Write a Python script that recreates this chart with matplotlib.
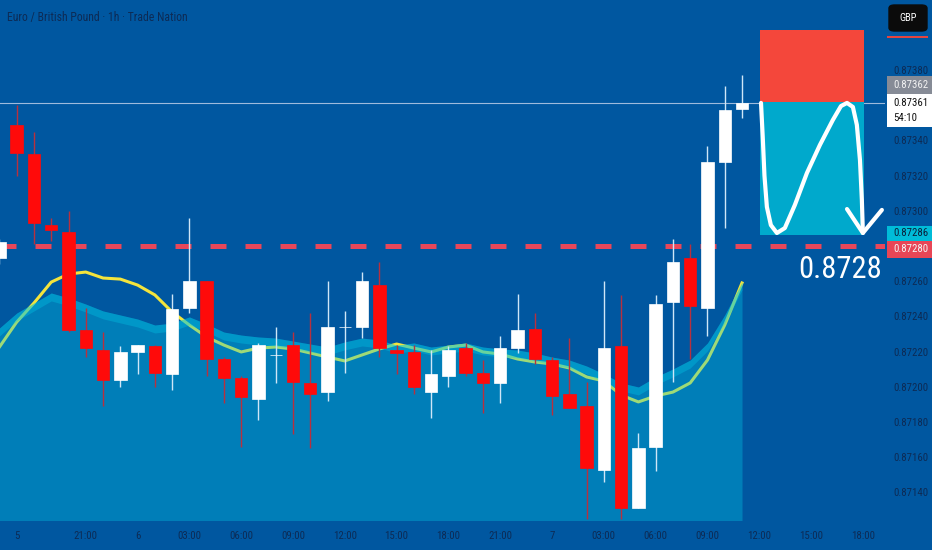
import numpy as np
import matplotlib.pyplot as plt
from matplotlib import font_manager
from matplotlib.patches import Rectangle, FancyBboxPatch

# hourly EURGBP candles, index 0 = 16:00 on the 5th
opens = [0.87273, 0.87349, 0.87332, 0.87292, 0.87288, 0.87232, 0.87221, 0.87204, 0.87220, 0.87223,
         0.87207, 0.87245, 0.87260, 0.87216, 0.87205, 0.87193, 0.87218, 0.87224, 0.87202, 0.87197,
         0.87234, 0.87234, 0.87258, 0.87221, 0.87220, 0.87197, 0.87206, 0.87222, 0.87208, 0.87202,
         0.87222, 0.87233, 0.87215, 0.87196, 0.87189, 0.87153, 0.87223, 0.87131, 0.87166, 0.87248,
         0.87273, 0.87245, 0.87328, 0.87358]
closes = [0.87282, 0.87333, 0.87293, 0.87289, 0.87232, 0.87222, 0.87204, 0.87220, 0.87224, 0.87208,
          0.87244, 0.87260, 0.87216, 0.87205, 0.87194, 0.87224, 0.87218, 0.87203, 0.87196, 0.87234,
          0.87234, 0.87260, 0.87222, 0.87219, 0.87200, 0.87207, 0.87221, 0.87208, 0.87202, 0.87222,
          0.87232, 0.87216, 0.87195, 0.87188, 0.87154, 0.87222, 0.87131, 0.87165, 0.87247, 0.87271,
          0.87246, 0.87328, 0.87357, 0.87361]
highs = [0.87284, 0.87360, 0.87345, 0.87296, 0.87300, 0.87245, 0.87231, 0.87223, 0.87224, 0.87224,
         0.87253, 0.87296, 0.87260, 0.87217, 0.87206, 0.87225, 0.87234, 0.87231, 0.87242, 0.87260,
         0.87243, 0.87265, 0.87271, 0.87224, 0.87224, 0.87221, 0.87223, 0.87225, 0.87215, 0.87229,
         0.87253, 0.87242, 0.87217, 0.87228, 0.87203, 0.87260, 0.87252, 0.87174, 0.87252, 0.87284,
         0.87281, 0.87337, 0.87371, 0.87377]
lows = [0.87270, 0.87320, 0.87281, 0.87283, 0.87231, 0.87217, 0.87189, 0.87200, 0.87207, 0.87200,
        0.87198, 0.87242, 0.87206, 0.87191, 0.87166, 0.87181, 0.87202, 0.87173, 0.87165, 0.87192,
        0.87208, 0.87228, 0.87217, 0.87207, 0.87196, 0.87182, 0.87200, 0.87206, 0.87185, 0.87191,
        0.87219, 0.87213, 0.87184, 0.87188, 0.87125, 0.87146, 0.87125, 0.87131, 0.87152, 0.87203,
        0.87216, 0.87229, 0.87290, 0.87353]

# moving average line (yellow) and the filled average
ema = [0.872226, 0.872368, 0.872476, 0.872595, 0.872641, 0.872652, 0.872618, 0.872612, 0.872578, 0.872522,
       0.872425, 0.872351, 0.872283, 0.872237, 0.872198, 0.872220, 0.872226, 0.872215, 0.872192, 0.872169,
       0.872147, 0.872181, 0.872215, 0.872243, 0.872220, 0.872198, 0.872226, 0.872237, 0.872198, 0.872186,
       0.872158, 0.872141, 0.872130, 0.872107, 0.872056, 0.872033, 0.871953, 0.871914, 0.871948, 0.871970,
       0.872022, 0.872152, 0.872351, 0.872590]
area_top = [0.872334, 0.872419, 0.872476, 0.872533, 0.872505, 0.872470, 0.872431, 0.872408, 0.872385, 0.872351,
            0.872362, 0.872397, 0.872357, 0.872311, 0.872294, 0.872283, 0.872277, 0.872260, 0.872243, 0.872226,
            0.872255, 0.872277, 0.872266, 0.872237, 0.872249, 0.872226, 0.872237, 0.872249, 0.872226, 0.872215,
            0.872209, 0.872192, 0.872169, 0.872152, 0.872118, 0.872073, 0.872022, 0.871999, 0.872056, 0.872101,
            0.872152, 0.872249, 0.872408, 0.872595]

level = 0.8728
last_price = 0.87361
entry, target, stop = 0.87362, 0.87286, 0.87403
box_x0, box_x1 = 44.04, 50.06

# hand drawn arrow inside the target box (bar index, price)
arrow_x = [44.10, 44.20, 44.30, 44.44, 44.67, 45.02, 45.48, 46.06, 46.76, 47.51, 48.26, 48.73, 49.08,
           49.42, 49.65, 49.83, 49.94, 50.00]
arrow_y = [0.873613, 0.873420, 0.873200, 0.873022, 0.872919, 0.872874, 0.872902, 0.873033, 0.873215,
           0.873374, 0.873516, 0.873595, 0.873613, 0.873590, 0.873488, 0.873289, 0.873061, 0.872874]
head_x = [49.08, 50.00, 51.10]
head_y = [0.873010, 0.872874, 0.873005]

tick_pos = [1, 5, 8, 11, 14, 17, 20, 23, 26, 29, 32, 35, 38, 41, 44, 47, 50]
tick_lab = ['5', '21:00', '6', '03:00', '06:00', '09:00', '12:00', '15:00', '18:00',
            '21:00', '7', '03:00', '06:00', '09:00', '12:00', '15:00', '18:00']
# price scale labels; 0.87280 and 0.87360 sit under the level / last price tags
ytick_vals = [0.87140, 0.87160, 0.87180, 0.87200, 0.87220, 0.87240, 0.87260,
              0.87300, 0.87320, 0.87340, 0.87380]

BG = '#0057a0'
TXT = '#0d2b55'
CYAN = '#00c8e6'

# a narrow face suits the squeezed screenshot; fall back to DejaVu
ttf = font_manager.fontManager.ttflist
names = {f.name for f in ttf}
cands = ['Liberation Sans Narrow', 'Roboto Condensed', 'Open Sans Condensed', 'Noto Sans Condensed', 'DejaVu Sans']
FONT = next(f for f in cands if f in names)
plt.rcParams['font.family'] = FONT
if any(f.name == FONT and str(f.stretch) == 'condensed' for f in ttf):
    plt.rcParams['font.stretch'] = 'condensed'

W, H = 932, 550
fig = plt.figure(figsize=(W / 100, H / 100), dpi=100, facecolor=BG)
ax = fig.add_axes([0, 30 / H, 885 / W, 520 / H])
ax.set_facecolor(BG)
for s in ax.spines.values():
    s.set_visible(False)

idx = np.arange(len(opens))
o = np.array(opens); c = np.array(closes)
up = c >= o
col = np.where(up, '#ffffff', '#ff0a0a')

# averages: yellow line underneath the translucent area
ax.plot(idx, ema, color='#f4e43c', lw=2.2, zorder=2)
ax.fill_between(idx, area_top, 0.8700, color=CYAN, alpha=0.35, lw=0, zorder=3)
ax.fill_between(idx, area_top, np.array(area_top) - 0.000045, color=CYAN, alpha=0.35, lw=0, zorder=3)

# candles
ax.vlines(idx[up], np.array(lows)[up], np.array(highs)[up], color='#cfe6f7', lw=1, zorder=5)
ax.vlines(idx[~up], np.array(lows)[~up], np.array(highs)[~up], color='#b8303e', lw=1, zorder=5)
body = np.maximum(np.abs(c - o), 0.000002)
ax.bar(idx, body, bottom=np.minimum(o, c), width=0.72, color=col, edgecolor=col, lw=0.5, zorder=6)

# level and last price
ax.axhline(level, color='#e8475a', lw=3.6, linestyle=(0, (3.2, 3.8)), dash_capstyle='butt', zorder=4)
ax.axhline(last_price, color='#9fbbdc', lw=0.8, zorder=4)

# short position box
ax.add_patch(Rectangle((box_x0, entry), box_x1 - box_x0, stop - entry, color='#f4473b', lw=0, zorder=6))
ax.add_patch(Rectangle((box_x0, target), box_x1 - box_x0, entry - target, color='#00a9cc', lw=0, zorder=6))
ax.plot(arrow_x, arrow_y, color='white', lw=3, solid_capstyle='round', solid_joinstyle='round', zorder=7)
ax.plot(head_x, head_y, color='white', lw=3, solid_capstyle='round', solid_joinstyle='round', zorder=7)

ax.set_xlim(0.033, 51.28)
ax.set_ylim(0.8712432, 0.8741977)

ax.set_xticks(tick_pos)
ax.set_xticklabels(tick_lab)
ax.set_yticks(ytick_vals)
ax.set_yticklabels(['%.5f' % v for v in ytick_vals])
ax.yaxis.tick_right()
ax.tick_params(axis='both', length=0, colors=TXT, labelsize=7.8)
ax.tick_params(axis='y', pad=6)
ax.tick_params(axis='x', pad=8)

title = fig.text(7 / W, 1 - 17 / H, 'Euro / British Pound \u00b7 1h \u00b7 Trade Nation', color=TXT,
                 fontsize=8.6, va='center', ha='left')
big = fig.text(840 / W, 1 - 278 / H, '0.8728', color='white', fontsize=23, ha='center', va='baseline')


def px_box(x0, y0, x1, y1, color):
    fig.patches.append(Rectangle((x0 / W, 1 - y1 / H), (x1 - x0) / W, (y1 - y0) / H,
                                 transform=fig.transFigure, color=color, lw=0, zorder=10))


def px_text(x, y, s, color, size=7.8):
    return fig.text(x / W, 1 - y / H, s, color=color, fontsize=size, ha='left', va='center', zorder=11)


fig.patches.append(FancyBboxPatch((889 / W, 1 - 31 / H), 38 / W, 26 / H,
                                  boxstyle='round,pad=0,rounding_size=0.006',
                                  transform=fig.transFigure, color='#0b0b0b', zorder=10))
fig.text(908 / W, 1 - 18 / H, 'GBP', color='white', fontsize=7.5, ha='center', va='center', zorder=11)
px_box(887, 36, 928, 38, '#e5443e')

labels = []
px_box(887, 76, 932, 94, '#868b96')
labels.append(px_text(893, 85, '0.87362', '#f2f2f2'))
px_box(887, 94, 932, 127, '#ffffff')
labels.append(px_text(893, 103, '0.87361', '#111111'))
labels.append(px_text(893, 118, '54:10', '#111111'))
px_box(887, 226, 932, 241, '#00bcd8')
labels.append(px_text(893, 233.5, '0.87286', '#0b1f3a'))
px_box(887, 241, 932, 258, '#e84656')
labels.append(px_text(893, 249.5, '0.87280', '#f5f5f5'))

# shrink text that is wider than the room it has in the screenshot
fig.canvas.draw()
r = fig.canvas.get_renderer()


def shrink(t, max_px):
    w = t.get_window_extent(r).width
    return min(1.0, max_px / w)


ky = shrink(ax.get_yticklabels()[0], 36)
ax.tick_params(axis='y', labelsize=7.8 * ky)
kx = shrink(ax.get_xticklabels()[1], 26)
ax.tick_params(axis='x', labelsize=7.8 * kx)
for t in labels:
    t.set_fontsize(7.8 * ky)
title.set_fontsize(8.6 * shrink(title, 180))
big.set_fontsize(23 * shrink(big, 84))

fig.savefig('out.png', dpi=100, facecolor=BG)
